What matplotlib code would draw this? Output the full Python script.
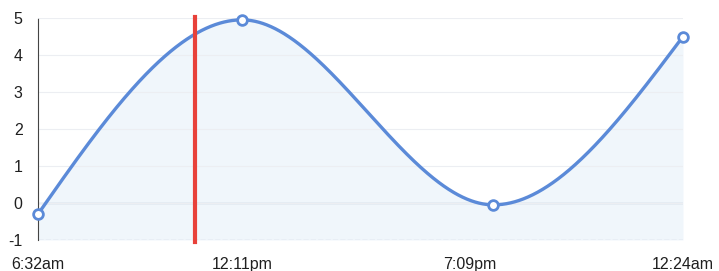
import numpy as np
import matplotlib.pyplot as plt
import matplotlib.dates as mdates
import matplotlib.transforms as mtransforms
import pandas as pd

plt.rcParams['font.family'] = ['Liberation Sans', 'DejaVu Sans']
plt.rcParams['axes.unicode_minus'] = False

# data
times = pd.to_datetime(['2020-01-01 06:32', '2020-01-01 12:11',
                        '2020-01-01 19:09', '2020-01-02 00:24'])
values = [-0.3, 4.95, -0.05, 4.5]
tick_labels = ['6:32am', '12:11pm', '7:09pm', '12:24am']
marker_time = pd.to_datetime('2020-01-01 10:53')


# monotone cubic curve through the points (like d3 curveMonotoneX)
def monotone(x, y, n=400):
    x = np.asarray(x, float)
    y = np.asarray(y, float)
    h = np.diff(x)
    d = np.diff(y) / h
    m = np.zeros(len(x))
    for i in range(1, len(x) - 1):
        if d[i - 1] * d[i] <= 0:
            m[i] = 0
        else:
            p = (d[i - 1] * h[i] + d[i] * h[i - 1]) / (h[i - 1] + h[i])
            m[i] = np.sign(d[i]) * min(abs(d[i - 1]), abs(d[i]), 0.5 * abs(p))
    m[0] = (3 * d[0] - m[1]) / 2
    m[-1] = (3 * d[-1] - m[-2]) / 2
    xs, ys = [], []
    for i in range(len(x) - 1):
        t = np.linspace(0, 1, n)
        h00 = 2 * t**3 - 3 * t**2 + 1
        h10 = t**3 - 2 * t**2 + t
        h01 = -2 * t**3 + 3 * t**2
        h11 = t**3 - t**2
        xs.append(x[i] + t * h[i])
        ys.append(h00 * y[i] + h10 * h[i] * m[i] + h01 * y[i + 1] + h11 * h[i] * m[i + 1])
    return np.concatenate(xs), np.concatenate(ys)


xnum = mdates.date2num(times)
cx, cy = monotone(xnum, values)

fig = plt.figure(figsize=(7.19, 2.71), dpi=100)
ax = fig.add_axes([38 / 719, 1 - 240 / 271, (683 - 38) / 719, (240 - 18) / 271])

blue = '#5b8ad8'
ax.fill_between(cx, cy, -1, color='#e3eef9', alpha=0.5, lw=0)
ax.plot(cx, cy, color=blue, lw=2.4, clip_on=False, zorder=3)
ax.plot(xnum, values, 'o', ms=7, mfc='white', mec=blue, mew=2, clip_on=False, zorder=4)

ax.axvline(mdates.date2num(marker_time), ymin=-0.01, ymax=1.005, color='#e8413a',
           lw=3, clip_on=False, zorder=5)

ax.set_xlim(xnum[0], xnum[-1])
ax.set_ylim(-1, 5)
ax.set_yticks(range(-1, 6))
ax.set_xticks(xnum)
ax.set_xticklabels(tick_labels)

ax.grid(axis='y', color='#eceef2', lw=0.8)
ax.axhline(0, color='#b9c7dc', lw=1, zorder=1)
for s in ['top', 'right', 'bottom']:
    ax.spines[s].set_visible(False)
ax.spines['left'].set_linestyle((0, (1, 1)))
ax.spines['left'].set_color('#444444')
ax.axhline(-1, color='#c8d3e3', lw=1, ls='--', zorder=1)

ax.tick_params(axis='y', length=0, pad=11, labelsize=11.5, labelcolor='#1f1f1f')
ax.tick_params(axis='x', length=0, pad=12, labelsize=11.5, labelcolor='#1f1f1f')

# 7:09pm label sits a bit left of its point in the original
lbl = ax.get_xticklabels()[2]
lbl.set_transform(lbl.get_transform() + mtransforms.ScaledTranslation(-0.24, 0, fig.dpi_scale_trans))

fig.savefig('out.png', dpi=100)
